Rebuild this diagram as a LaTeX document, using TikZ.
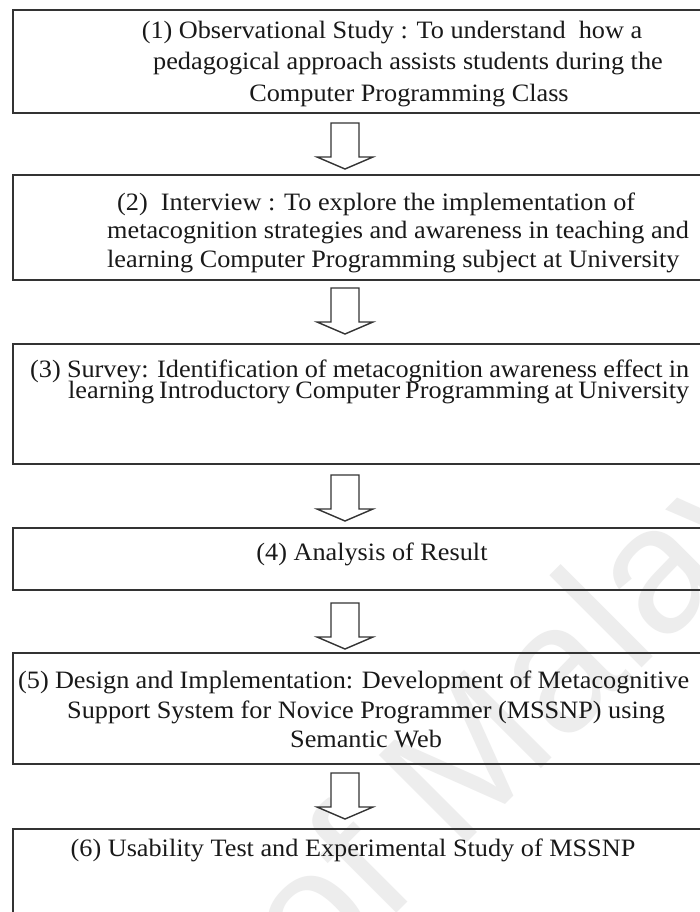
\documentclass[tikz,border=0pt]{standalone}
\usepackage{fontspec}
\setmainfont{Liberation Serif}[FakeStretch=1.05]
\newfontfamily\wmfont{Liberation Sans}
\begin{document}
\begin{tikzpicture}[x=1pt,y=-1pt,
  stagebox/.style={draw=black!80, line width=1.6pt, anchor=north west,
    minimum width=707pt, inner sep=0pt, outer sep=0pt},
  txt/.style={inner sep=0pt, font=\fontsize{25}{28}\selectfont, text=black!90},
  flowarrow/.style={draw=black!80, line width=1.4pt, line join=miter, fill=white},
  downarrow/.pic={\draw[flowarrow] (-14,0) -- (-14,34) -- (-28,34) -- (0,46)
      -- (28,34) -- (14,34) -- (14,0) -- cycle;},
]
\useasboundingbox (0,0) rectangle (699,912);
\fill[white] (0,0) rectangle (699,912);

% faint watermark
\node[inner sep=0pt, anchor=base west, rotate=45, text=black!7,
  font=\wmfont\fontsize{180}{180}\selectfont] (wm) at (315,995) {of Malaya};

% stage boxes
\node[stagebox, minimum height=103pt] (s1) at (13,10) {};
\node[stagebox, minimum height=105pt] (s2) at (13,175) {};
\node[stagebox, minimum height=120pt] (s3) at (13,344) {};
\node[stagebox, minimum height=62pt]  (s4) at (13,528) {};
\node[stagebox, minimum height=111pt] (s5) at (13,653) {};
\node[stagebox, minimum height=110pt] (s6) at (13,829) {};

% arrows between stages
\pic at (345,123) {downarrow};
\pic at (345,288) {downarrow};
\pic at (345,475) {downarrow};
\pic at (345,603) {downarrow};
\pic at (345,773) {downarrow};

% stage 1
\node[txt, anchor=base] (t11) at (392,39) {(1) Observational Study : To understand\ \ how a};
\node[txt, anchor=base] (t12) at (408,70) {pedagogical approach assists students during the};
\node[txt, anchor=base] (t13) at (409,102) {Computer Programming Class};
% stage 2
\node[txt, anchor=base west] (t21) at (117,210) {(2)\ \ Interview : To explore the implementation of};
\node[txt, anchor=base west] (t22) at (107,238) {metacognition strategies and awareness in teaching and};
\node[txt, anchor=base west] (t23) at (107,267) {learning Computer Programming subject at University};
% stage 3
\node[txt, anchor=base west] (t31) at (30,377) {\makebox[659pt][s]{(3) Survey: Identification of metacognition awareness effect in}};
\node[txt, anchor=base west] (t32) at (68,398) {\makebox[621pt][s]{learning Introductory Computer Programming at University}};
% stage 4
\node[txt, anchor=base] (t41) at (372,560) {(4) Analysis of Result};
% stage 5
\node[txt, anchor=base west] (t51) at (18,688) {\makebox[671pt][s]{(5) Design and Implementation: Development of Metacognitive}};
\node[txt, anchor=base west] (t52) at (67,718) {Support System for Novice Programmer (MSSNP) using};
\node[txt, anchor=base] (t53) at (366,747) {Semantic Web};
% stage 6
\node[txt, anchor=base] (t61) at (353,856) {(6) Usability Test and Experimental Study of MSSNP};
\end{tikzpicture}
\end{document}
